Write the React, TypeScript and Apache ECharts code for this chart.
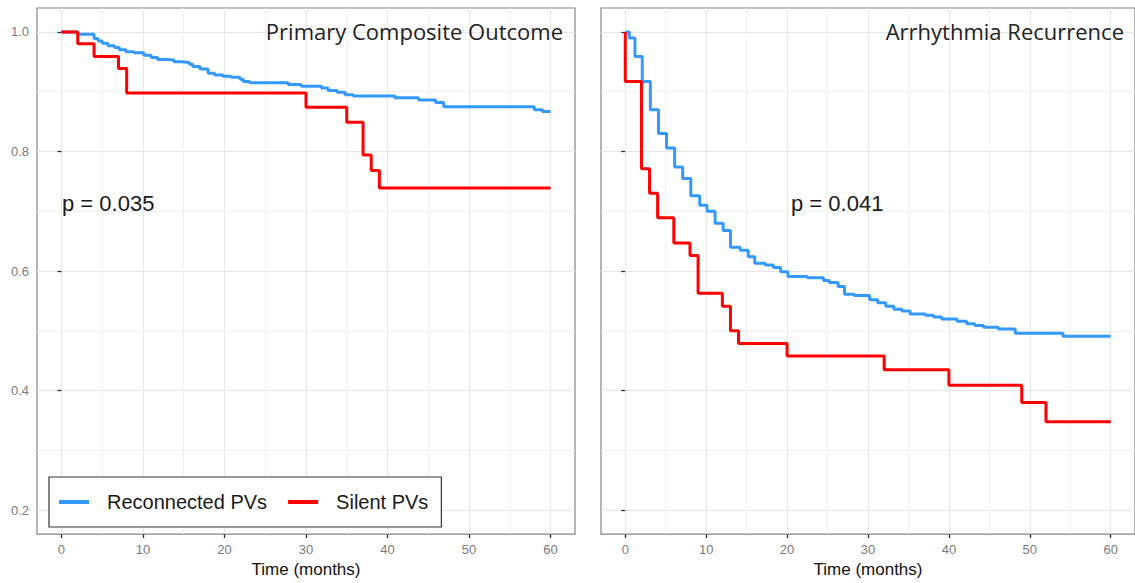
import React, { useEffect, useRef } from "react";
import * as echarts from "echarts";

// ---- Data (Kaplan-Meier step points: [months, survival]) ----
const primaryReconnected: [number, number][] = [
  [0, 1], [2, 0.996], [4, 0.989], [4.5, 0.985], [5, 0.981], [5.7, 0.977], [6.5, 0.974],
  [7.1, 0.97], [7.9, 0.967], [8.9, 0.965], [10.1, 0.961], [11, 0.957], [11.8, 0.954],
  [12.9, 0.953], [13.8, 0.95], [14.7, 0.949], [15.7, 0.946], [16.1, 0.942], [17, 0.938],
  [18, 0.931], [18.8, 0.928], [19.8, 0.926], [20.8, 0.924], [21.9, 0.921], [22.3, 0.917],
  [23.1, 0.915], [27.8, 0.912], [29.4, 0.909], [31.9, 0.906], [32.7, 0.902], [33.8, 0.899],
  [34.8, 0.895], [35.8, 0.893], [40.9, 0.89], [43.8, 0.886], [45.9, 0.882], [46.9, 0.875],
  [58, 0.87], [59, 0.867], [60, 0.867],
];
const primarySilent: [number, number][] = [
  [0, 1], [2, 0.98], [4, 0.959], [7, 0.939], [8, 0.898], [30, 0.874], [35, 0.849],
  [37, 0.794], [38, 0.768], [39, 0.739], [60, 0.739],
];
const arrhythmiaReconnected: [number, number][] = [
  [0, 1], [0.5, 0.99], [1.2, 0.959], [2.1, 0.917], [3.1, 0.87], [4.1, 0.83], [5.1, 0.806],
  [6.1, 0.774], [7.1, 0.755], [8.1, 0.726], [9.2, 0.71], [10.1, 0.7], [11.1, 0.68],
  [12.1, 0.668], [13, 0.64], [14.2, 0.635], [15.2, 0.624], [16, 0.613], [17.3, 0.61],
  [18.3, 0.606], [19.2, 0.599], [20.1, 0.591], [22.5, 0.589], [24.5, 0.584], [25.2, 0.581],
  [26.3, 0.574], [27.1, 0.561], [28.3, 0.559], [30.2, 0.552], [31.2, 0.547], [32.2, 0.541],
  [33.2, 0.536], [34.2, 0.533], [35.2, 0.528], [37.1, 0.526], [38.1, 0.523], [39.1, 0.52],
  [41, 0.516], [42.2, 0.512], [43.2, 0.509], [44.3, 0.506], [46.1, 0.503], [48.2, 0.496],
  [54.1, 0.491], [60, 0.491],
];
const arrhythmiaSilent: [number, number][] = [
  [0, 1], [0, 0.917], [2, 0.771], [3, 0.73], [4, 0.689], [6, 0.647], [8, 0.626], [9, 0.563],
  [12, 0.541], [13, 0.5], [14, 0.479], [20, 0.458], [32, 0.435], [40, 0.409], [49, 0.38],
  [52, 0.348], [60, 0.348],
];

const seriesNames = ["Reconnected PVs", "Silent PVs"];
const panelTitles = ["Primary Composite Outcome", "Arrhythmia Recurrence"];
const pValues = ["p = 0.035", "p = 0.041"];
const xAxisTitle = "Time (months)";
const xTicks = [0, 10, 20, 30, 40, 50, 60];
const xMinorTicks = [5, 15, 25, 35, 45, 55];
const yTicks = [0.2, 0.4, 0.6, 0.8, 1.0];
const yMinorTicks = [0.3, 0.5, 0.7, 0.9];

const BLUE = "#3399ff";
const RED = "#ff0000";
const TICK_FONT = "Liberation Sans";

function textEl(text: string, x: number, y: number, align: string, size: number, family: string, fill: string) {
  return {
    type: "text",
    x,
    y,
    z: 100,
    silent: true,
    style: {
      text,
      align,
      verticalAlign: "middle",
      fontSize: size,
      fontFamily: family,
      fill,
      stroke: "none",
      lineWidth: 0,
    },
  };
}

function buildOption() {
  const grids = [
    { left: 37, top: 8, width: 538, height: 532 },
    { left: 601, top: 8, width: 538, height: 532 },
  ].map((g) => ({
    ...g,
    show: true,
    borderColor: "#858585",
    borderWidth: 1.2,
    backgroundColor: "transparent",
  }));

  const xAxes: any[] = [];
  const yAxes: any[] = [];
  [0, 1].forEach((gi) => {
    xAxes.push({
      type: "value",
      gridIndex: gi,
      min: -3,
      max: 63,
      axisLine: { show: false },
      axisTick: { show: true, length: 4, lineStyle: { color: "#333", width: 1.3 }, customValues: xTicks },
      axisLabel: {
        customValues: xTicks,
        color: "#7a7a7a",
        fontSize: 13,
        fontFamily: TICK_FONT,
        margin: 9,
      },
      splitLine: { show: true, lineStyle: { color: "#e6e6e6", width: 1 } },
      name: xAxisTitle,
      nameLocation: "middle",
      nameGap: 26,
      nameTextStyle: { fontSize: 17, color: "#111", fontFamily: TICK_FONT },
    });
    xAxes.push({
      type: "value",
      gridIndex: gi,
      min: -3,
      max: 63,
      axisLine: { show: false },
      axisTick: { show: false, customValues: xMinorTicks },
      axisLabel: { show: false, customValues: xMinorTicks },
      splitLine: { show: true, lineStyle: { color: "#f0f0f0", width: 1 } },
    });
    yAxes.push({
      type: "value",
      gridIndex: gi,
      min: 0.16,
      max: 1.04,
      axisLine: { show: false },
      axisTick: { show: true, length: 4, lineStyle: { color: "#333", width: 1.3 }, customValues: yTicks },
      axisLabel: {
        show: gi === 0,
        customValues: yTicks,
        color: "#7a7a7a",
        fontSize: 13,
        fontFamily: TICK_FONT,
        margin: 8,
        formatter: (v: number) => v.toFixed(1),
      },
      splitLine: { show: true, lineStyle: { color: "#e6e6e6", width: 1 } },
    });
    yAxes.push({
      type: "value",
      gridIndex: gi,
      min: 0.16,
      max: 1.04,
      axisLine: { show: false },
      axisTick: { show: false, customValues: yMinorTicks },
      axisLabel: { show: false, customValues: yMinorTicks },
      splitLine: { show: true, lineStyle: { color: "#f0f0f0", width: 1 } },
    });
  });

  const mk = (name: string, data: [number, number][], panel: number, color: string, z: number) => ({
    name,
    type: "line",
    step: "end",
    xAxisIndex: panel * 2,
    yAxisIndex: panel * 2,
    data,
    symbol: "none",
    showSymbol: false,
    z,
    color,
    lineStyle: { color, width: 3 },
  });

  const series = [
    mk(seriesNames[0], primaryReconnected, 0, BLUE, 2),
    mk(seriesNames[1], primarySilent, 0, RED, 3),
    mk(seriesNames[0], arrhythmiaReconnected, 1, BLUE, 2),
    mk(seriesNames[1], arrhythmiaSilent, 1, RED, 3),
  ];

  return {
    animation: false,
    backgroundColor: "#ffffff",
    grid: grids,
    xAxis: xAxes,
    yAxis: yAxes,
    series,
    legend: {
      data: seriesNames,
      left: 49,
      top: 477,
      orient: "horizontal",
      icon: "rect",
      itemWidth: 30,
      itemHeight: 4,
      itemGap: 21,
      padding: [15, 13, 15, 10],
      borderColor: "#333",
      borderWidth: 1.2,
      borderRadius: 0,
      backgroundColor: "#ffffff",
      textStyle: {
        fontSize: 20,
        color: "#1a1a1a",
        fontFamily: TICK_FONT,
        padding: [0, 0, 0, 13],
      },
      selectedMode: false,
    },
    graphic: [
      textEl(panelTitles[0], 563, 31, "right", 22, "Open Sans", "#222"),
      textEl(panelTitles[1], 1124, 31, "right", 22, "Open Sans", "#222"),
      textEl(pValues[0], 62, 203, "left", 22, TICK_FONT, "#1a1a1a"),
      textEl(pValues[1], 791, 203, "left", 22, TICK_FONT, "#1a1a1a"),
    ],
  };
}

export default function App() {
  const ref = useRef<HTMLDivElement>(null);
  useEffect(() => {
    if (!ref.current) return;
    const chart = echarts.init(ref.current, undefined, { renderer: "svg" });
    chart.setOption(buildOption() as any);
    return () => chart.dispose();
  }, []);
  return (
    <div
      ref={ref}
      style={{ position: "fixed", left: 0, top: 0, width: 1135, height: 583, background: "#fff" }}
    />
  );
}
